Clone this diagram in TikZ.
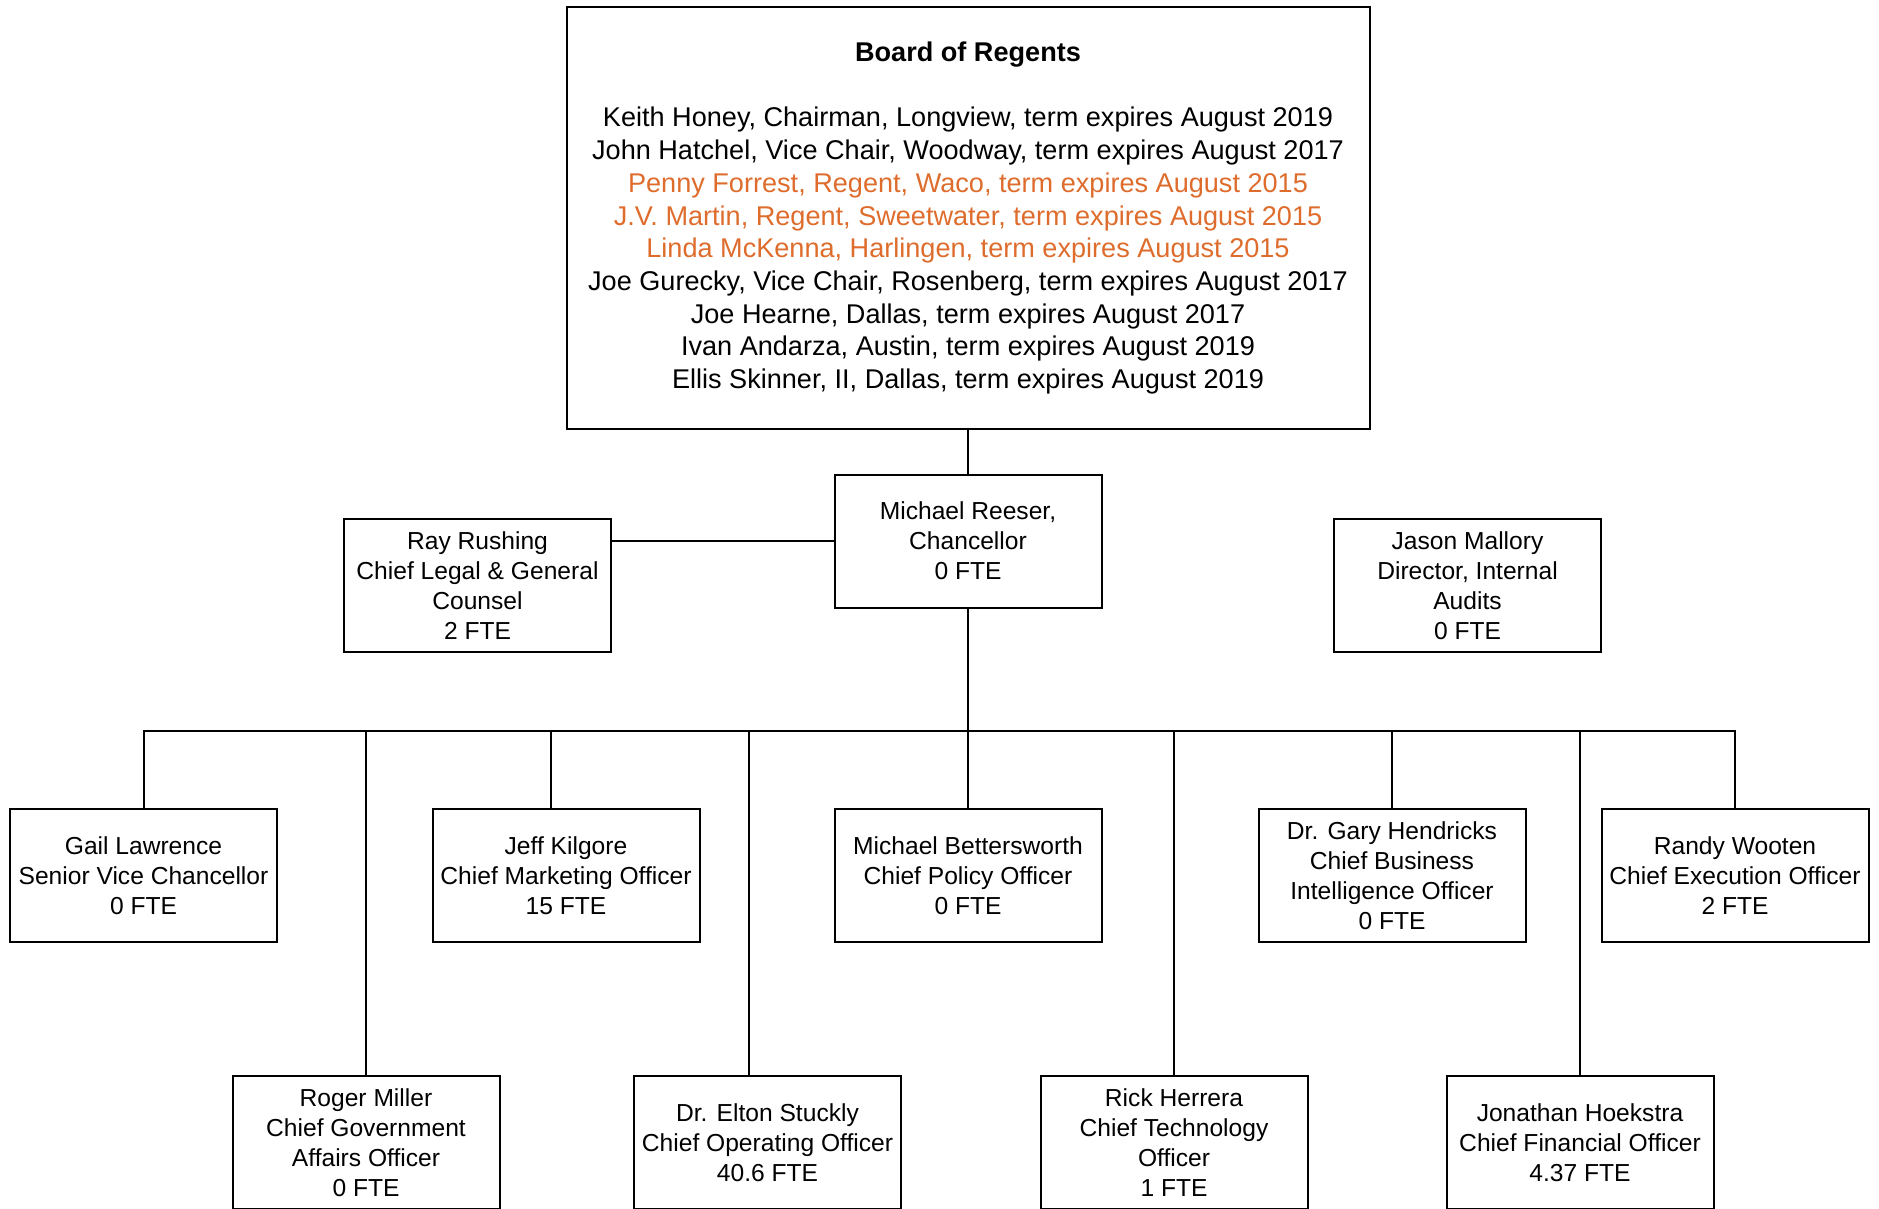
\documentclass[tikz,border=0pt]{standalone}
\usepackage{fontspec}
\setmainfont{Liberation Sans}
\definecolor{regorange}{RGB}{222,108,44}
\begin{document}
\begin{tikzpicture}[x=1pt,y=-1pt,
  box/.style={draw, line width=2pt, minimum width=267pt, minimum height=133pt, inner sep=0pt, align=center, font=\fontsize{24.6}{30}\selectfont},
  conn/.style={line width=2pt}]
\useasboundingbox (0,0) rectangle (1879,1208);
\node[box, minimum width=803pt, minimum height=422pt, font=\fontsize{27.1}{32.7}\selectfont] (board) at (968,218)
 {\textbf{Board of Regents}\\[32.7pt]
  Keith Honey, Chairman, Longview, term expires August 2019\\
  John Hatchel, Vice Chair, Woodway, term expires August 2017\\
  \textcolor{regorange}{Penny Forrest, Regent, Waco, term expires August 2015}\\
  \textcolor{regorange}{J.V. Martin, Regent, Sweetwater, term expires August 2015}\\
  \textcolor{regorange}{Linda McKenna, Harlingen, term expires August 2015}\\
  Joe Gurecky, Vice Chair, Rosenberg, term expires August 2017\\
  Joe Hearne, Dallas, term expires August 2017\\
  Ivan Andarza, Austin, term expires August 2019\\
  Ellis Skinner, II, Dallas, term expires August 2019};
\node[box] (chan) at (968,541) {Michael Reeser,\\Chancellor\\0 FTE};
\node[box] (ray) at (477.5,585.5) {Ray Rushing\\Chief Legal \& General\\Counsel\\2 FTE};
\node[box] (jason) at (1467.5,585.5) {Jason Mallory\\Director, Internal\\Audits\\0 FTE};
\node[box] (gail) at (143.5,875.5) {Gail Lawrence\\Senior Vice Chancellor\\0 FTE};
\node[box] (jeff) at (566,875.5) {Jeff Kilgore\\Chief Marketing Officer\\15 FTE};
\node[box] (bett) at (968,875.5) {Michael Bettersworth\\Chief Policy Officer\\0 FTE};
\node[box] (gary) at (1392,875.5) {Dr. Gary Hendricks\\Chief Business\\Intelligence Officer\\0 FTE};
\node[box] (randy) at (1735,875.5) {Randy Wooten\\Chief Execution Officer\\2 FTE};
\node[box] (roger) at (366,1142.5) {Roger Miller\\Chief Government\\Affairs Officer\\0 FTE};
\node[box] (elton) at (767.5,1142.5) {Dr. Elton Stuckly\\Chief Operating Officer\\40.6 FTE};
\node[box] (rick) at (1174,1142.5) {Rick Herrera\\Chief Technology\\Officer\\1 FTE};
\node[box] (jon) at (1580,1142.5) {Jonathan Hoekstra\\Chief Financial Officer\\4.37 FTE};
\coordinate (bus) at (968,731);
\draw[conn] (board.south) -- (chan.north);
\draw[conn] (chan.west) -- (chan.west -| ray.east);
\draw[conn] (chan.south) -- (bus);
\draw[conn] (bus) -| (gail.north);
\draw[conn] (bus) -| (roger.north);
\draw[conn] (bus) -| ([xshift=-15pt]jeff.north);
\draw[conn] (bus) -| ([xshift=-18.5pt]elton.north);
\draw[conn] (bus) -- (bett.north);
\draw[conn] (bus) -| (rick.north);
\draw[conn] (bus) -| (gary.north);
\draw[conn] (bus) -| (jon.north);
\draw[conn] (bus) -| (randy.north);
\end{tikzpicture}
\end{document}
